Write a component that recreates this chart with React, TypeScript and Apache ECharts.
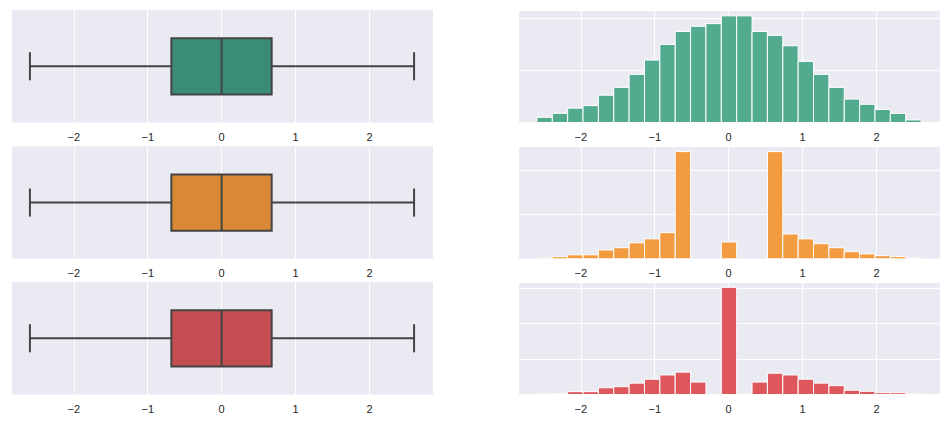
import React, { useEffect, useRef } from "react";
import * as echarts from "echarts";

// Box statistics: [min, Q1, median, Q3, max]
const boxStatsA = [-2.594, -0.68, 0, 0.677, 2.604];
const boxStatsB = [-2.594, -0.68, 0, 0.677, 2.604];
const boxStatsC = [-2.594, -0.68, 0, 0.677, 2.604];

// Histogram bins
const histStart = -2.594;
const histEnd = 2.604;
const histBins = 25;

const countsA = [4, 7, 11, 13, 21, 27, 37, 48, 60, 70, 74, 76, 82, 82, 70, 67, 59, 47, 37, 27, 18, 14, 10, 7, 2];
const countsB = [2, 5, 9, 9, 20, 25, 36, 45, 59, 242, 0, 0, 38, 0, 0, 242, 56, 45, 34, 25, 16, 11, 7, 5, 1.5];
const countsC = [2, 3, 8, 8, 19, 22, 32, 43, 55, 63, 35, 0, 302, 0, 35, 60, 55, 43, 32, 25, 12, 9, 5, 5, 2];

const histYMax = [86.5, 254, 317];
const histYInterval = [40, 100, 100];

const boxColors = ["#3b8c74", "#d98836", "#c44e52"];
const histColors = ["#52ab8f", "#f29b41", "#de575b"];

const xMin = -2.85;
const xMax = 2.86;

export default function App() {
  const ref = useRef<HTMLDivElement>(null);

  useEffect(() => {
    if (!ref.current) return;
    const chart = echarts.init(ref.current, null, { renderer: "svg" });

    const boxStats = [boxStatsA, boxStatsB, boxStatsC];
    const counts = [countsA, countsB, countsC];
    const binW = (histEnd - histStart) / histBins;
    const edges: number[] = [];
    for (let i = 0; i <= histBins; i++) edges.push(histStart + i * binW);

    const tops = [10, 146.3, 282];
    const h = 112.5;
    const grids: any[] = [];
    const xAxes: any[] = [];
    const yAxes: any[] = [];
    const series: any[] = [];
    const fontFamily = "'Liberation Sans', Arial, sans-serif";

    const xAxisBase = (gi: number) => ({
      type: "value",
      gridIndex: gi,
      min: xMin,
      max: xMax,
      axisLine: { show: false },
      axisTick: { show: false },
      splitLine: { show: true, lineStyle: { color: "#ffffff", width: 1 } },
      axisLabel: {
        color: "#262626",
        fontSize: 11,
        fontFamily,
        margin: 9,
        showMinLabel: false,
        showMaxLabel: false,
        formatter: (v: number) =>
          Number.isInteger(v) ? (v < 0 ? "\u2212" + Math.abs(v) : String(v)) : "",
      },
    });

    for (let r = 0; r < 3; r++) {
      // boxplot grid
      const gb = grids.length;
      grids.push({
        left: 11, width: 422, top: tops[r], height: h,
        show: true, backgroundColor: "#eaeaf2", borderWidth: 0,
      });
      xAxes.push(xAxisBase(gb));
      yAxes.push({
        type: "value", gridIndex: gb, min: -1, max: 1,
        axisLine: { show: false }, axisTick: { show: false },
        axisLabel: { show: false }, splitLine: { show: false },
      });
      const color = boxColors[r];
      series.push({
        type: "custom",
        xAxisIndex: gb,
        yAxisIndex: gb,
        clip: false,
        data: [boxStats[r]],
        encode: { x: [0, 1, 2, 3, 4] },
        renderItem: (params: any, api: any) => {
          const mn = api.value(0), q1 = api.value(1), md = api.value(2), q3 = api.value(3), mx = api.value(4);
          const yc = api.coord([0, 0])[1];
          const yT = api.coord([0, 0.5])[1];
          const yB = api.coord([0, -0.5])[1];
          const cT = api.coord([0, 0.25])[1];
          const cB = api.coord([0, -0.25])[1];
          const xMn = api.coord([mn, 0])[0];
          const xQ1 = api.coord([q1, 0])[0];
          const xMd = api.coord([md, 0])[0];
          const xQ3 = api.coord([q3, 0])[0];
          const xMx = api.coord([mx, 0])[0];
          const ls = { stroke: "#444444", lineWidth: 2 };
          return {
            type: "group",
            children: [
              { type: "line", shape: { x1: xMn, y1: yc, x2: xQ1, y2: yc }, style: ls },
              { type: "line", shape: { x1: xQ3, y1: yc, x2: xMx, y2: yc }, style: ls },
              { type: "line", shape: { x1: xMn, y1: cT, x2: xMn, y2: cB }, style: ls },
              { type: "line", shape: { x1: xMx, y1: cT, x2: xMx, y2: cB }, style: ls },
              {
                type: "rect",
                shape: { x: xQ1, y: yT, width: xQ3 - xQ1, height: yB - yT },
                style: { fill: color, stroke: "#444444", lineWidth: 2 },
              },
              { type: "line", shape: { x1: xMd, y1: yT, x2: xMd, y2: yB }, style: ls },
            ],
          };
        },
      });

      // histogram grid
      const gh = grids.length;
      grids.push({
        left: 518, width: 422, top: tops[r], height: h,
        show: true, backgroundColor: "#eaeaf2", borderWidth: 0,
      });
      xAxes.push(xAxisBase(gh));
      yAxes.push({
        type: "value", gridIndex: gh, min: 0, max: histYMax[r], interval: histYInterval[r],
        axisLine: { show: false }, axisTick: { show: false },
        axisLabel: { show: false },
        splitLine: { show: true, lineStyle: { color: "#ffffff", width: 1 } },
      });
      const hc = histColors[r];
      series.push({
        type: "custom",
        xAxisIndex: gh,
        yAxisIndex: gh,
        data: counts[r].map((c, i) => [edges[i], edges[i + 1], c]),
        encode: { x: [0, 1], y: 2 },
        renderItem: (params: any, api: any) => {
          const c = api.value(2);
          if (!c) return null;
          const p0 = api.coord([api.value(0), c]);
          const p1 = api.coord([api.value(1), 0]);
          return {
            type: "rect",
            shape: { x: p0[0], y: p0[1], width: p1[0] - p0[0], height: p1[1] - p0[1] },
            style: { fill: hc, stroke: "#ffffff", lineWidth: 1 },
          };
        },
      });
    }

    chart.setOption({
      animation: false,
      backgroundColor: "#ffffff",
      grid: grids,
      xAxis: xAxes,
      yAxis: yAxes,
      series,
    });

    return () => chart.dispose();
  }, []);

  return (
    <div
      ref={ref}
      style={{ position: "fixed", left: 0, top: 0, width: 950, height: 426 }}
    />
  );
}
